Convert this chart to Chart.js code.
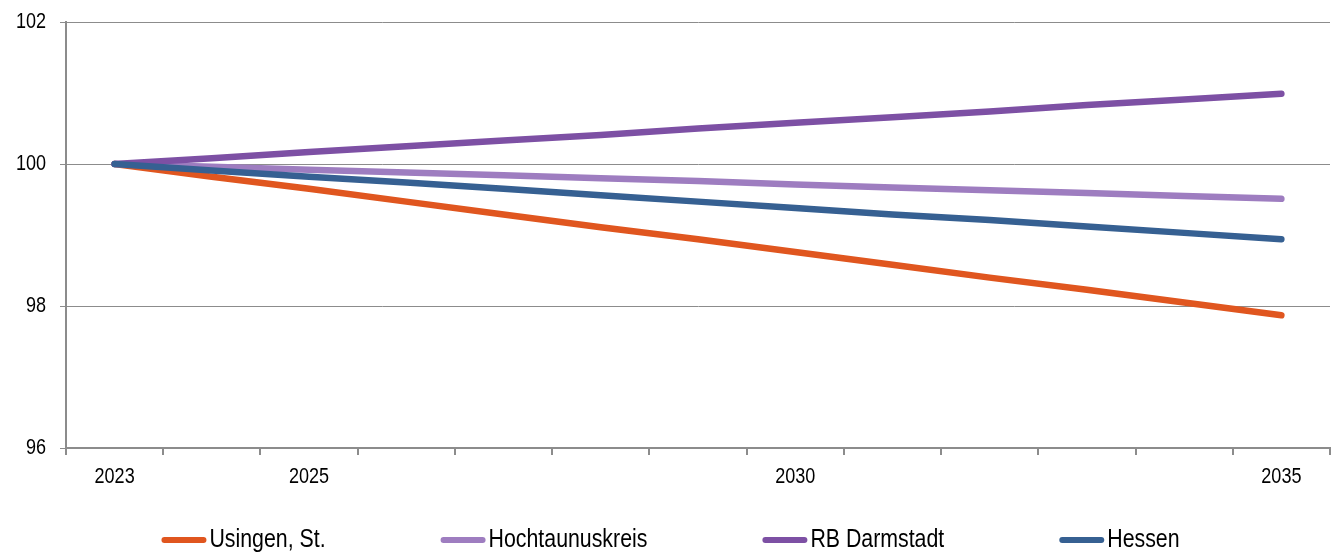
<!DOCTYPE html>
<html>
<head>
<meta charset="utf-8">
<script src="https://cdn.jsdelivr.net/npm/chart.js@4/dist/chart.umd.min.js"></script>
<style>
  html, body { margin: 0; padding: 0; background: #fff; }
  canvas { display: block; }
</style>
</head>
<body>
<canvas id="chart" width="1341" height="552"></canvas>
<script>
// Years on the category axis, and the ones that get a label
const years = ['2023', '2024', '2025', '2026', '2027', '2028', '2029', '2030', '2031', '2032', '2033', '2034', '2035'];
const labelledYears = ['2023', '2025', '2030', '2035'];

// Index values (2023 = 100)
const usingen = [100.00, 99.82, 99.65, 99.47, 99.29, 99.11, 98.94, 98.76, 98.58, 98.40, 98.23, 98.05, 97.87];
const hochtaunus = [100.00, 99.96, 99.92, 99.88, 99.84, 99.80, 99.76, 99.71, 99.67, 99.63, 99.59, 99.55, 99.51];
const darmstadt = [100.00, 100.08, 100.17, 100.25, 100.33, 100.41, 100.50, 100.58, 100.66, 100.74, 100.83, 100.91, 100.99];
const hessen = [100.00, 99.91, 99.82, 99.74, 99.65, 99.56, 99.47, 99.38, 99.29, 99.21, 99.12, 99.03, 98.94];

const seriesNames = ['Usingen, St.', 'Hochtaunuskreis', 'RB Darmstadt', 'Hessen'];
const seriesValues = [usingen, hochtaunus, darmstadt, hessen];
const seriesColors = ['#E0561F', '#9E7DC0', '#7D50A4', '#366092'];

const FONT = "'Liberation Sans', Arial, sans-serif";
const GRID = '#8c8c8c';
// The original uses a narrow face; squeeze the regular one to match
const NARROW = 0.82;

const narrowText = {
    id: 'narrowText',
    beforeInit(chart) {
        const ctx = chart.ctx;
        const fill = ctx.fillText.bind(ctx);
        const measure = ctx.measureText.bind(ctx);
        ctx.fillText = function (text, x, y, maxWidth) {
            this.save();
            this.translate(x, y);
            this.scale(NARROW, 1);
            if (maxWidth !== undefined) fill(text, 0, 0, maxWidth / NARROW);
            else fill(text, 0, 0);
            this.restore();
        };
        ctx.measureText = function (text) {
            const m = measure(text);
            return {
                width: m.width * NARROW,
                actualBoundingBoxAscent: m.actualBoundingBoxAscent,
                actualBoundingBoxDescent: m.actualBoundingBoxDescent,
                actualBoundingBoxLeft: m.actualBoundingBoxLeft * NARROW,
                actualBoundingBoxRight: m.actualBoundingBoxRight * NARROW
            };
        };
    }
};

// Bottom legend drawn by hand so the spacing matches the original
const bottomLegend = {
    id: 'bottomLegend',
    afterDraw(chart) {
        const ctx = chart.ctx;
        const lineLen = 45, gap = 3, spacing = 115, y = 540;
        ctx.save();
        ctx.font = '26px ' + FONT;
        const items = chart.data.datasets.map(ds => ({
            text: ds.label,
            color: ds.borderColor,
            width: lineLen + gap + ctx.measureText(ds.label).width
        }));
        const total = items.reduce((s, it) => s + it.width, 0) + spacing * (items.length - 1);
        let x = (chart.width - total) / 2;
        items.forEach(it => {
            ctx.strokeStyle = it.color;
            ctx.lineWidth = 6;
            ctx.lineCap = 'round';
            ctx.beginPath();
            ctx.moveTo(x + 3, y);
            ctx.lineTo(x + lineLen - 3, y);
            ctx.stroke();
            ctx.fillStyle = '#000';
            ctx.textBaseline = 'middle';
            ctx.textAlign = 'left';
            ctx.fillText(it.text, x + lineLen + gap, y);
            x += it.width + spacing;
        });
        ctx.restore();
    }
};

new Chart(document.getElementById('chart'), {
    type: 'line',
    data: {
        labels: years,
        datasets: seriesNames.map((name, i) => ({
            label: name,
            data: seriesValues[i],
            borderColor: seriesColors[i],
            backgroundColor: seriesColors[i],
            borderWidth: 6.5,
            borderCapStyle: 'round',
            borderJoinStyle: 'round',
            pointRadius: 0,
            pointHoverRadius: 0,
            tension: 0,
            fill: false,
            order: seriesNames.length - i
        }))
    },
    options: {
        responsive: false,
        animation: false,
        devicePixelRatio: 1,
        layout: { autoPadding: false, padding: { top: 22, right: 11, bottom: 64, left: 0 } },
        plugins: {
            legend: { display: false },
            tooltip: { enabled: false }
        },
        scales: {
            x: {
                type: 'category',
                offset: true,
                afterFit: s => { s.height = 40; },
                grid: {
                    display: true,
                    offset: true,
                    drawOnChartArea: false,
                    drawTicks: true,
                    tickLength: 7,
                    color: GRID,
                    lineWidth: 2
                },
                border: { display: true, color: GRID, width: 2 },
                ticks: {
                    autoSkip: false,
                    maxRotation: 0,
                    padding: 9,
                    color: '#000',
                    font: { family: FONT, size: 22 },
                    callback: (v, i) => labelledYears.includes(years[i]) ? years[i] : ''
                }
            },
            y: {
                min: 96,
                max: 102,
                afterFit: s => {
                    s.width = 66;
                    s.paddingTop = 0;
                    s.paddingBottom = 0;
                },
                grid: {
                    color: GRID,
                    lineWidth: 1,
                    drawTicks: true,
                    tickLength: 6
                },
                border: { display: true, color: GRID, width: 2 },
                ticks: {
                    stepSize: 2,
                    padding: 14,
                    color: '#000',
                    font: { family: FONT, size: 22 }
                }
            }
        }
    },
    plugins: [narrowText, bottomLegend]
});
</script>
</body>
</html>
